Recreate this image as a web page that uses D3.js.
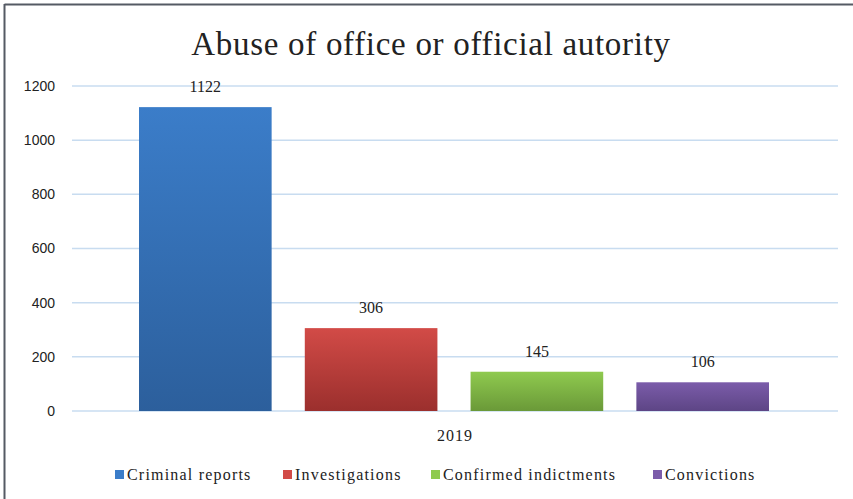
<!DOCTYPE html>
<html>
<head>
<meta charset="utf-8">
<script src="https://cdn.jsdelivr.net/npm/d3@7"></script>
<style>
  body { margin: 0; background: #fff; }
  svg { display: block; }
</style>
</head>
<body>
<div id="chart"></div>
<script>
const categories = ["Criminal reports", "Investigations", "Confirmed indictments", "Convictions"];
const values = [1122, 306, 145, 106];
const yTicks = [0, 200, 400, 600, 800, 1000, 1200];
const year = "2019";
const colors = [
    ["#3b7dc9", "#2c5f9c"],
    ["#d24b47", "#9b2f2d"],
    ["#8fca4f", "#6a9938"],
    ["#7b5caa", "#5d4585"]
];

const W = 853, H = 499;
const margin = { top: 86, right: 15, bottom: 88, left: 72 };
const width = W - margin.left - margin.right,
    height = H - margin.top - margin.bottom;

const svg = d3.select("#chart").append("svg")
    .attr("width", W)
    .attr("height", H);

// gradients for bars
const defs = svg.append("defs");
colors.forEach((c, i) => {
    const g = defs.append("linearGradient")
        .attr("id", "grad" + i)
        .attr("x1", 0).attr("y1", 0).attr("x2", 0).attr("y2", 1);
    g.append("stop").attr("offset", "0%").attr("stop-color", c[0]);
    g.append("stop").attr("offset", "100%").attr("stop-color", c[1]);
});

// outer frame (top and left only)
svg.append("line").attr("x1", 4.5).attr("x2", W).attr("y1", 4.5).attr("y2", 4.5)
    .style("stroke", "#555a64").style("stroke-width", 2);
svg.append("line").attr("x1", 4.5).attr("x2", 4.5).attr("y1", 4).attr("y2", H)
    .style("stroke", "#555a64").style("stroke-width", 2);

svg.append("text")
    .attr("x", 431)
    .attr("y", 55)
    .style("font-family", "'Liberation Serif', 'DejaVu Serif', serif")
    .style("font-size", "33px")
    .style("letter-spacing", "0.7px")
    .style("text-anchor", "middle")
    .style("fill", "#222")
    .text("Abuse of office or official autority");

const g = svg.append("g")
    .attr("transform", `translate(${margin.left},${margin.top})`);

const y = d3.scaleLinear().domain([0, 1200]).range([height, 0]);
const x = d3.scaleBand().domain(categories).range([67, 697]).paddingInner(0.2);

// gridlines
g.selectAll(".grid")
    .data(yTicks)
    .enter()
    .append("line")
    .attr("x1", 0)
    .attr("x2", width)
    .attr("y1", d => y(d))
    .attr("y2", d => y(d))
    .style("stroke", "#c8dcf0")
    .style("stroke-width", 1.5);

const yAxis = g.append("g")
    .call(d3.axisLeft(y).tickValues(yTicks).tickFormat(d3.format("d")).tickSize(0).tickPadding(17));
yAxis.select(".domain").remove();
yAxis.selectAll("text")
    .style("font-family", "'Liberation Sans', Arial, sans-serif")
    .style("font-size", "14px")
    .style("fill", "#222");

// bars
g.selectAll(".bar")
    .data(values)
    .enter()
    .append("rect")
    .attr("x", (d, i) => x(categories[i]))
    .attr("y", d => y(d))
    .attr("width", x.bandwidth())
    .attr("height", d => height - y(d))
    .style("fill", (d, i) => `url(#grad${i})`);

// value labels
g.selectAll(".val")
    .data(values)
    .enter()
    .append("text")
    .attr("x", (d, i) => x(categories[i]) + x.bandwidth() / 2)
    .attr("y", d => y(d) - 15)
    .style("font-family", "'Liberation Serif', serif")
    .style("font-size", "16px")
    .style("text-anchor", "middle")
    .style("fill", "#222")
    .text(d => d);

g.append("text")
    .attr("x", width / 2)
    .attr("y", height + 30)
    .style("font-family", "'Liberation Serif', serif")
    .style("font-size", "16px")
    .style("letter-spacing", "1px")
    .style("text-anchor", "middle")
    .style("fill", "#222")
    .text(year);

// legend
const legendX = [115, 283, 431, 653];
const legend = svg.append("g").attr("transform", "translate(0,475)");
categories.forEach((c, i) => {
    legend.append("rect")
        .attr("x", legendX[i])
        .attr("y", -5)
        .attr("width", 9)
        .attr("height", 9)
        .style("fill", colors[i][0]);
    legend.append("text")
        .attr("x", legendX[i] + 12)
        .attr("y", 5)
        .style("font-family", "'Liberation Serif', serif")
        .style("font-size", "16px")
        .style("letter-spacing", "1.2px")
        .style("fill", "#222")
        .text(c);
});
</script>
</body>
</html>
